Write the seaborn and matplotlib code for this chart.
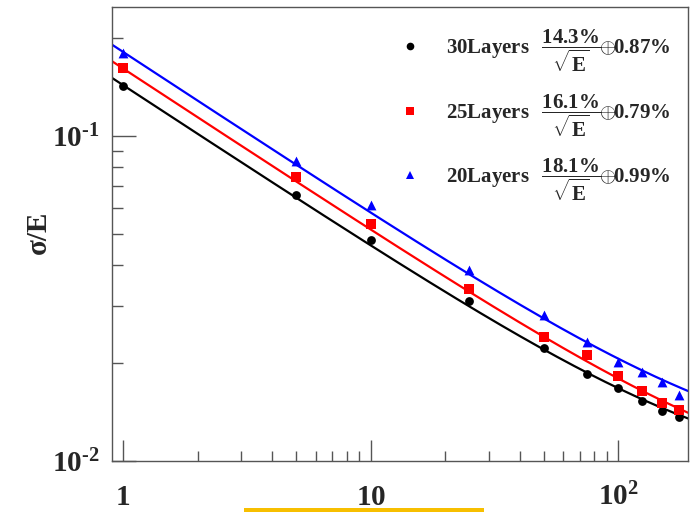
import numpy as np
import pandas as pd
import matplotlib
matplotlib.use("Agg")
import matplotlib.pyplot as plt
import seaborn as sns
from matplotlib.ticker import FixedLocator, LogLocator, NullFormatter
from matplotlib.patches import Rectangle
from matplotlib.lines import Line2D

# Beam energies (GeV) and measured relative resolution sigma/E
energy = [1, 5, 10, 25, 50, 75, 100, 125, 150, 175]
res_30 = [0.1425, 0.0658, 0.0479, 0.0311, 0.0223, 0.0185, 0.0168, 0.0153, 0.0142, 0.0137]
res_25 = [0.1619, 0.0748, 0.0536, 0.0338, 0.0241, 0.0212, 0.0183, 0.0164, 0.0151, 0.0143]
res_20 = [0.1800, 0.0838, 0.0613, 0.0387, 0.0281, 0.0232, 0.0202, 0.0188, 0.0175, 0.0160]

layers = ["30Layers", "25Layers", "20Layers"]
stochastic = [14.3, 16.1, 18.1]   # % / sqrt(E)
constant = [0.87, 0.79, 0.99]     # %
colors = ["#000000", "#ff0000", "#0000ff"]
markers = ["o", "s", "^"]
marker_area = [40, 42, 50]

x_ticks = [1, 10, 100]
x_ticklabels = [r"$\mathbf{1}$", r"$\mathbf{10}$", r"$\mathbf{10^{2}}$"]
y_ticks = [0.01, 0.1]
y_ticklabels = [r"$\mathbf{10^{\text{-}2}}$", r"$\mathbf{10^{\text{-}1}}$"]
x_range = (0.903, 191)
y_range = (0.01, 0.249)

points = pd.DataFrame({
    "E": energy * 3,
    "res": res_30 + res_25 + res_20,
    "layers": np.repeat(layers, len(energy)),
})

# Fit curves: sigma/E = a/sqrt(E) (+) b
grid = np.geomspace(x_range[0], x_range[1], 300)
fits = pd.concat([
    pd.DataFrame({"E": grid,
                  "res": np.sqrt((a / 100) ** 2 / grid + (b / 100) ** 2),
                  "layers": name})
    for name, a, b in zip(layers, stochastic, constant)
], ignore_index=True)

sns.set_theme(style="white")
plt.rcParams.update({
    "font.family": ["Liberation Serif", "DejaVu Serif"],
    "font.weight": "bold",
    "mathtext.fontset": "custom",
    "mathtext.rm": "Liberation Serif:bold",
    "mathtext.it": "Liberation Serif:bold",
    "mathtext.bf": "Liberation Serif:bold",
    "mathtext.default": "rm",
    "axes.edgecolor": "#555555",
    "axes.linewidth": 1.0,
})

fig = plt.figure(figsize=(6.9, 5.12), dpi=100)
ax = fig.add_axes([0.1623, 0.0996, 0.8348, 0.8867])

for name, c, m, s in zip(layers, colors, markers, marker_area):
    sns.lineplot(data=fits[fits["layers"] == name], x="E", y="res",
                 color=c, linewidth=1.6, ax=ax, legend=False, zorder=2)
    sns.scatterplot(data=points[points["layers"] == name], x="E", y="res",
                    marker=m, s=s, color=c, edgecolor=c, linewidth=0,
                    ax=ax, legend=False, zorder=3)

ax.set_xscale("log")
ax.set_yscale("log")
ax.set_xlim(*x_range)
ax.set_ylim(*y_range)

ax.xaxis.set_major_locator(FixedLocator(x_ticks))
ax.set_xticklabels(x_ticklabels)
ax.yaxis.set_major_locator(FixedLocator(y_ticks))
ax.set_yticklabels(y_ticklabels)
for axis in (ax.xaxis, ax.yaxis):
    axis.set_minor_locator(LogLocator(base=10, subs=np.arange(2, 10)))
    axis.set_minor_formatter(NullFormatter())

ax.tick_params(which="both", direction="in", color="#555555", width=1.0,
               top=False, right=False, bottom=True, left=True)
ax.tick_params(axis="x", which="major", length=15, pad=32, labelsize=21)
ax.tick_params(axis="x", which="minor", length=7)
ax.tick_params(axis="y", which="major", length=17, pad=9, labelsize=21)
ax.tick_params(axis="y", which="minor", length=8)
for t in ax.xaxis.get_major_ticks():
    t.label1.set_verticalalignment("baseline")

for sp in ("top", "right", "bottom", "left"):
    ax.spines[sp].set_visible(True)
    ax.spines[sp].set_color("#555555")

ax.set_xlabel("")
ax.set_ylabel("σ/E", fontsize=21, fontweight="bold")
ax.yaxis.set_label_coords(-0.105, 0.504)

handles = [Line2D([], [], marker=m, color=c, linestyle="none", markersize=5.5,
                  markeredgewidth=0)
           for c, m in zip(colors, markers)]
labels = [f"{name}  " + rf"$\,\dfrac{{{a}\%}}{{\sqrt{{E}}}}\!\!\oplus\!\!{b}\%$"
          for name, a, b in zip(layers, stochastic, constant)]
ax.legend(handles, labels, loc="upper left", bbox_to_anchor=(0.5, 0.955),
          frameon=False, borderaxespad=0, borderpad=0, handlelength=1.0,
          handletextpad=1.2, labelspacing=0.85,
          prop={"family": "Liberation Serif", "weight": "bold", "size": 15})

fig.add_artist(Rectangle((244 / 690, 0), 240 / 690, 4 / 512,
                         transform=fig.transFigure, color="#f7bf00", lw=0))

fig.savefig("out.png", dpi=100, facecolor="white")
